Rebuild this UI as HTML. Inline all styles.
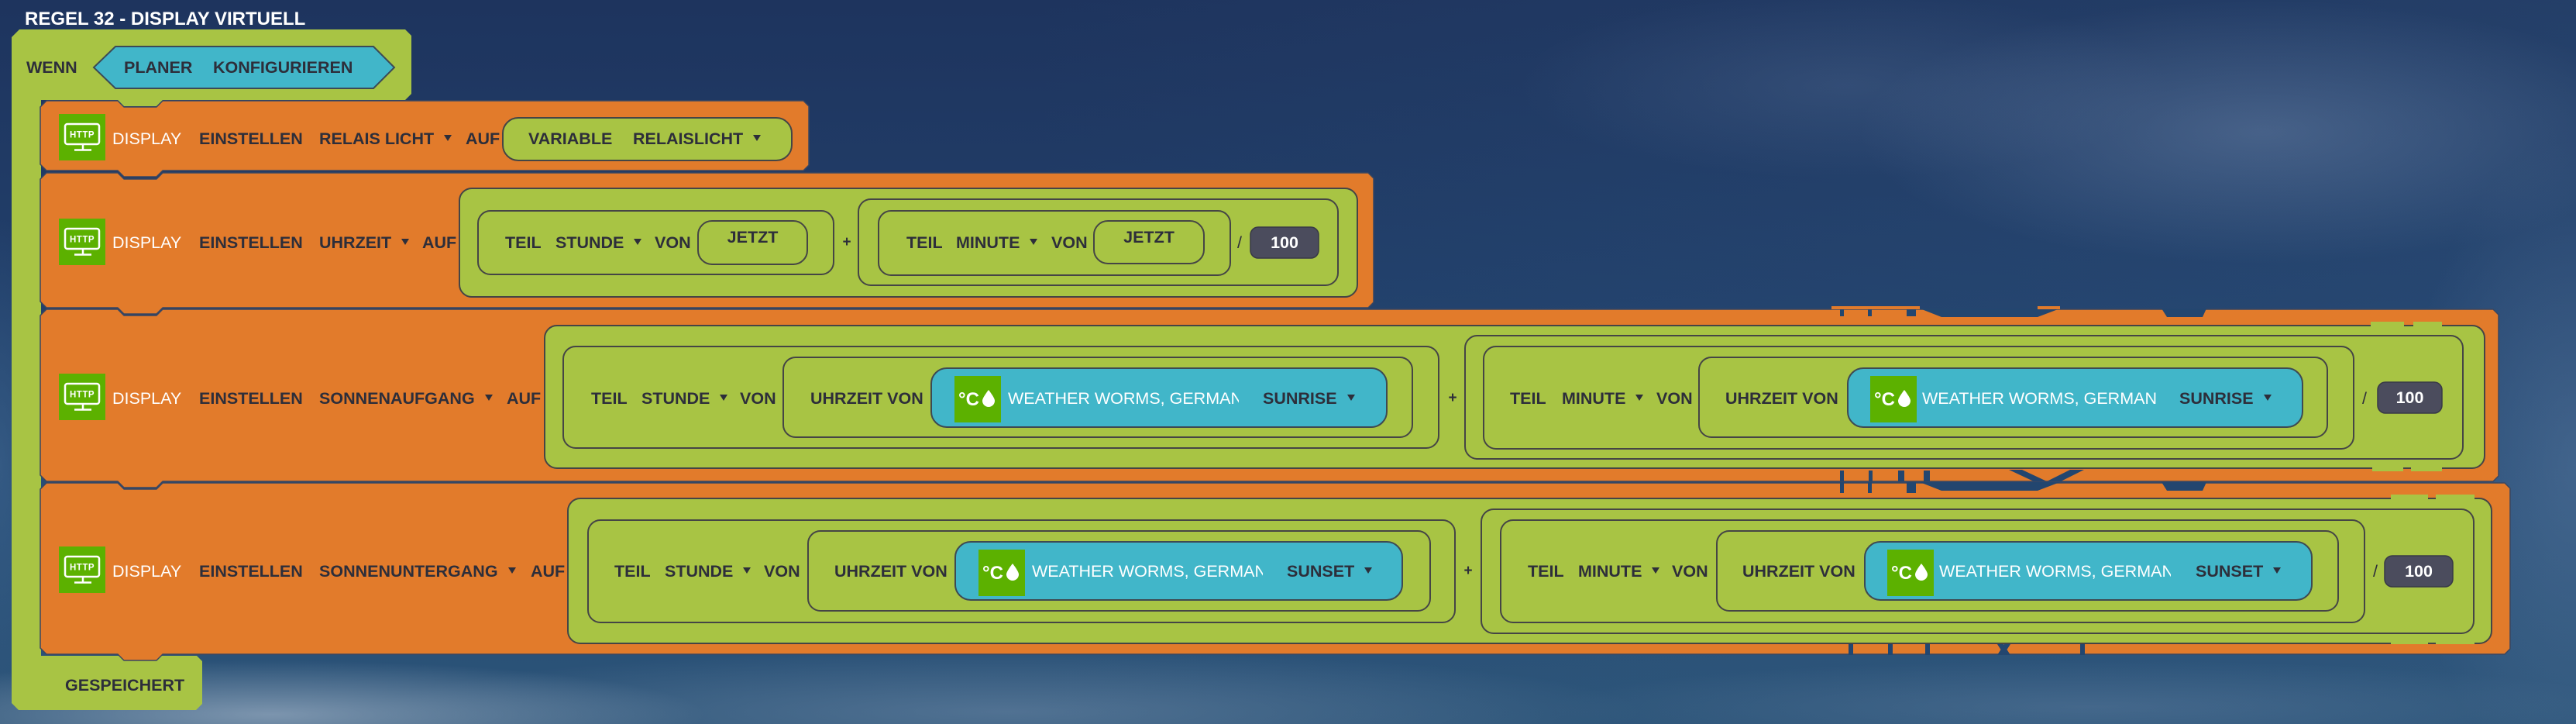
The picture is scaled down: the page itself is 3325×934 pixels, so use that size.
<!DOCTYPE html>
<html><head><meta charset="utf-8">
<style>
html,body{margin:0;padding:0;}
body{width:3325px;height:934px;overflow:hidden;position:relative;
background:
 radial-gradient(ellipse 520px 170px at 2920px 170px, rgba(135,158,192,0.35), rgba(0,0,0,0)),
 radial-gradient(ellipse 420px 120px at 2380px 110px, rgba(110,135,172,0.22), rgba(0,0,0,0)),
 radial-gradient(ellipse 220px 420px at 3325px 600px, rgba(110,140,178,0.35), rgba(0,0,0,0)),
 radial-gradient(ellipse 560px 70px at 350px 922px, rgba(190,202,218,0.55), rgba(0,0,0,0)),
 radial-gradient(ellipse 820px 80px at 1300px 918px, rgba(150,170,196,0.35), rgba(0,0,0,0)),
 radial-gradient(ellipse 700px 60px at 2700px 912px, rgba(120,146,178,0.3), rgba(0,0,0,0)),
 radial-gradient(ellipse 70px 320px at 0px 600px, rgba(70,110,152,0.45), rgba(0,0,0,0)),
 linear-gradient(90deg, rgba(0,0,0,0) 40%, rgba(55,95,135,0.25) 100%),
 linear-gradient(180deg, #1e345e 0%, #213f6a 40%, #264b74 70%, #2c5478 100%);
font-family:"Liberation Sans",Arial,sans-serif;}
.t{position:absolute;white-space:nowrap;font-size:21.5px;line-height:30px;height:30px;color:#2d2e3a;font-weight:bold;}
.w{color:#fff;font-weight:normal;}
.c{text-align:center;}
.dd{display:inline-block;width:0;height:0;border-left:5.5px solid transparent;border-right:5.5px solid transparent;border-top:8px solid #2d2e3a;margin-left:13px;vertical-align:middle;position:relative;top:-2px;}
.clip{overflow:hidden;}
</style></head>
<body>
<svg width="3325" height="934" viewBox="0 0 3325 934" style="position:absolute;left:0;top:0">
<defs>
<g id="http">
<rect x="0" y="0" width="60" height="60" fill="#5cb100"/>
<rect x="8" y="13" width="44" height="26" rx="3" fill="none" stroke="#fff" stroke-width="2.5"/>
<line x1="31" y1="39" x2="31" y2="46" stroke="#fff" stroke-width="2.5"/>
<line x1="20" y1="46.5" x2="42" y2="46.5" stroke="#fff" stroke-width="2.5"/>
<text x="30" y="30.5" font-family="Liberation Sans, sans-serif" font-size="11.5" font-weight="bold" fill="#fff" text-anchor="middle" letter-spacing="0.5">HTTP</text>
</g>
<g id="wx">
<rect x="0" y="0" width="60" height="60" fill="#5cb100"/>
<text x="5" y="38" font-family="Liberation Sans, sans-serif" font-size="24" font-weight="bold" fill="#fff">°C</text>
<path d="M44,18 C44,18 52,28 52,32 A8,8 0 0 1 36,32 C36,28 44,18 44,18 Z" fill="#fff"/>
</g>
</defs>

<!-- green C block -->
<path d="M15,48 L25,38 L523,38 L531,46 L531,121 L523,129 L210,129 L202,137 L160,137 L152,129 L53,129 L53,846 L254,846 L261,853 L261,908 L253,916 L24,916 L15,907 Z" fill="#a8c444"/>
<!-- hexagon -->
<polygon points="121,87 149,60 482,60 509,87 482,114 149,114" fill="#41b6c9" stroke="#3b4a56" stroke-width="2"/>

<!-- orange blocks -->
<g fill="#e27b2b" stroke="#3a4660" stroke-width="1.5" stroke-linejoin="round">
<path d="M52,138 L60,130 L152,130 L160,138 L202,138 L210,130 L1037,130 L1044,137 L1044,213 L1037,220 L210,220 L202,228 L160,228 L152,220 L60,220 L52,212 Z"/>
<path d="M52,231 L60,223 L152,223 L160,231 L202,231 L210,223 L1766,223 L1773,230 L1773,390 L1766,397 L210,397 L202,405 L160,405 L152,397 L60,397 L52,389 Z"/>
<path d="M52,407 L60,399 L152,399 L160,407 L202,407 L210,399 L3218,399 L3225,406 L3225,614 L3218,621 L210,621 L202,629 L160,629 L152,621 L60,621 L52,613 Z"/>
<path d="M52,631 L60,623 L152,623 L160,631 L202,631 L210,623 L3233,623 L3240,630 L3240,837 L3233,844 L210,844 L202,852 L160,852 L152,844 L60,844 L52,836 Z"/>
</g>

<!-- glitch artifacts -->
<g fill="#23466f">
<polygon points="2478,398 2659,398 2630,409 2506,409"/>
<polygon points="2790,398 2848,398 2843,409 2797,409"/>
<rect x="2375" y="398" width="5" height="10"/>
<rect x="2411" y="398" width="5" height="10"/>
<rect x="2461" y="398" width="12" height="10"/>
<rect x="2375" y="607" width="5" height="14"/>
<rect x="2412" y="607" width="5" height="14"/>
<rect x="2450" y="607" width="8" height="14"/>
<rect x="2483" y="607" width="8" height="14"/>
<polygon points="2593,606 2610,606 2642,621 2625,621"/>
<polygon points="2672,606 2690,606 2660,621 2642,621"/>
<polygon points="2478,622 2659,622 2630,633 2506,633"/>
<polygon points="2790,622 2848,622 2843,633 2797,633"/>
<rect x="2375" y="622" width="5" height="14"/>
<rect x="2411" y="622" width="5" height="14"/>
<rect x="2461" y="622" width="12" height="14"/>
<rect x="2386" y="831" width="6" height="14"/>
<rect x="2437" y="831" width="6" height="14"/>
<rect x="2485" y="831" width="6" height="14"/>
<polygon points="2578,831 2586,831 2595,845 2587,845"/>
<polygon points="2595,831 2587,831 2578,845 2586,845"/>
<rect x="2685" y="831" width="6" height="14"/>
</g>
<g fill="#e27b2b">
<rect x="2364" y="395" width="114" height="4"/>
<rect x="2630" y="395" width="29" height="4"/>
</g>

<!-- block 1 value -->
<g fill="#a8c444" stroke="#454545" stroke-width="2">
<rect x="649" y="152" width="373" height="55" rx="20"/>
<!-- block 2 -->
<rect x="593" y="243" width="1159" height="140" rx="16"/>
<rect x="617" y="272" width="459" height="82" rx="16"/>
<rect x="901" y="285" width="141" height="56" rx="18"/>
<rect x="1108" y="257" width="619" height="111" rx="16"/>
<rect x="1134" y="272" width="454" height="83" rx="16"/>
<rect x="1412" y="285" width="142" height="55" rx="18"/>
<!-- block 3 -->
<rect x="703" y="420" width="2504" height="184" rx="16"/>
<rect x="727" y="447" width="1130" height="131" rx="16"/>
<rect x="1011" y="461" width="812" height="103" rx="16"/>
<rect x="1891" y="433" width="1288" height="159" rx="16"/>
<rect x="1915" y="447" width="1123" height="132" rx="16"/>
<rect x="2193" y="461" width="811" height="103" rx="16"/>
<!-- block 4 -->
<rect x="733" y="643" width="2483" height="187" rx="16"/>
<rect x="759" y="671" width="1119" height="132" rx="16"/>
<rect x="1043" y="685" width="803" height="103" rx="16"/>
<rect x="1912" y="657" width="1281" height="160" rx="16"/>
<rect x="1937" y="671" width="1115" height="132" rx="16"/>
<rect x="2216" y="685" width="802" height="103" rx="16"/>
</g>
<g fill="#41b6c9" stroke="#3e4a52" stroke-width="2">
<rect x="1202" y="475" width="588" height="76" rx="20"/>
<rect x="2385" y="475" width="587" height="76" rx="20"/>
<rect x="1233" y="699" width="577" height="75" rx="20"/>
<rect x="2407" y="699" width="577" height="75" rx="20"/>
</g>
<g fill="#4b4c5d" stroke="#383946" stroke-width="1.5">
<rect x="1614" y="293" width="88" height="40" rx="10"/>
<rect x="3069" y="493" width="83" height="40" rx="10"/>
<rect x="3078" y="717" width="88" height="40" rx="10"/>
</g>

<!-- green artifacts at right -->
<g fill="#a8c444">
<rect x="3060" y="415" width="43" height="6"/>
<rect x="3115" y="415" width="37" height="6"/>
<rect x="3062" y="600" width="40" height="8"/>
<rect x="3112" y="600" width="40" height="8"/>
<rect x="3086" y="638" width="48" height="7"/>
<rect x="3144" y="638" width="50" height="7"/>
<rect x="3086" y="822" width="48" height="9"/>
<rect x="3144" y="822" width="50" height="9"/>
</g>

<!-- icons -->
<use href="#http" x="76" y="147"/>
<use href="#http" x="76" y="282"/>
<use href="#http" x="76" y="482"/>
<use href="#http" x="76" y="705"/>
<use href="#wx" x="1232" y="485"/>
<use href="#wx" x="2414" y="485"/>
<use href="#wx" x="1263" y="709"/>
<use href="#wx" x="2436" y="709"/>
</svg>

<!-- title -->
<div class="t" style="left:32px;top:10px;font-size:24px;color:#fff;">REGEL 32 - DISPLAY VIRTUELL</div>

<!-- WENN -->
<div class="t" style="left:34px;top:72px;">WENN</div>
<div class="t" style="left:160px;top:72px;">PLANER</div>
<div class="t" style="left:275px;top:72px;">KONFIGURIEREN</div>

<!-- block 1 -->
<div class="t w" style="left:145px;top:164px;">DISPLAY</div>
<div class="t" style="left:257px;top:164px;">EINSTELLEN</div>
<div class="t" style="left:412px;top:164px;">RELAIS LICHT<span class="dd"></span></div>
<div class="t" style="left:601px;top:164px;">AUF</div>
<div class="t" style="left:682px;top:164px;">VARIABLE</div>
<div class="t" style="left:817px;top:164px;">RELAISLICHT<span class="dd"></span></div>

<!-- block 2 -->
<div class="t w" style="left:145px;top:298px;">DISPLAY</div>
<div class="t" style="left:257px;top:298px;">EINSTELLEN</div>
<div class="t" style="left:412px;top:298px;">UHRZEIT<span class="dd"></span></div>
<div class="t" style="left:545px;top:298px;">AUF</div>
<div class="t" style="left:652px;top:298px;">TEIL</div>
<div class="t" style="left:717px;top:298px;">STUNDE<span class="dd"></span></div>
<div class="t" style="left:845px;top:298px;">VON</div>
<div class="t c" style="left:901px;width:141px;top:291px;">JETZT</div>
<div class="t c" style="left:1082px;width:22px;top:298px;font-size:19px;">+</div>
<div class="t" style="left:1170px;top:298px;">TEIL</div>
<div class="t" style="left:1234px;top:298px;">MINUTE<span class="dd"></span></div>
<div class="t" style="left:1357px;top:298px;">VON</div>
<div class="t c" style="left:1412px;width:142px;top:291px;">JETZT</div>
<div class="t c" style="left:1590px;width:20px;top:298px;font-weight:normal;">/</div>
<div class="t c" style="left:1614px;width:88px;top:298px;color:#fff;">100</div>

<!-- block 3 -->
<div class="t w" style="left:145px;top:499px;">DISPLAY</div>
<div class="t" style="left:257px;top:499px;">EINSTELLEN</div>
<div class="t" style="left:412px;top:499px;">SONNENAUFGANG<span class="dd"></span></div>
<div class="t" style="left:654px;top:499px;">AUF</div>
<div class="t" style="left:763px;top:499px;">TEIL</div>
<div class="t" style="left:828px;top:499px;">STUNDE<span class="dd"></span></div>
<div class="t" style="left:955px;top:499px;">VON</div>
<div class="t" style="left:1046px;top:499px;">UHRZEIT VON</div>
<div class="t w clip" style="left:1301px;width:298px;top:499px;">WEATHER WORMS, GERMANY</div>
<div class="t" style="left:1630px;top:499px;">SUNRISE<span class="dd"></span></div>
<div class="t c" style="left:1864px;width:22px;top:499px;font-size:19px;">+</div>
<div class="t" style="left:1949px;top:499px;">TEIL</div>
<div class="t" style="left:2016px;top:499px;">MINUTE<span class="dd"></span></div>
<div class="t" style="left:2138px;top:499px;">VON</div>
<div class="t" style="left:2227px;top:499px;">UHRZEIT VON</div>
<div class="t w clip" style="left:2481px;width:302px;top:499px;">WEATHER WORMS, GERMANY</div>
<div class="t" style="left:2813px;top:499px;">SUNRISE<span class="dd"></span></div>
<div class="t c" style="left:3042px;width:20px;top:499px;font-weight:normal;">/</div>
<div class="t c" style="left:3069px;width:83px;top:498px;color:#fff;">100</div>

<!-- block 4 -->
<div class="t w" style="left:145px;top:722px;">DISPLAY</div>
<div class="t" style="left:257px;top:722px;">EINSTELLEN</div>
<div class="t" style="left:412px;top:722px;">SONNENUNTERGANG<span class="dd"></span></div>
<div class="t" style="left:685px;top:722px;">AUF</div>
<div class="t" style="left:793px;top:722px;">TEIL</div>
<div class="t" style="left:858px;top:722px;">STUNDE<span class="dd"></span></div>
<div class="t" style="left:986px;top:722px;">VON</div>
<div class="t" style="left:1077px;top:722px;">UHRZEIT VON</div>
<div class="t w clip" style="left:1332px;width:298px;top:722px;">WEATHER WORMS, GERMANY</div>
<div class="t" style="left:1661px;top:722px;">SUNSET<span class="dd"></span></div>
<div class="t c" style="left:1884px;width:22px;top:722px;font-size:19px;">+</div>
<div class="t" style="left:1972px;top:722px;">TEIL</div>
<div class="t" style="left:2037px;top:722px;">MINUTE<span class="dd"></span></div>
<div class="t" style="left:2158px;top:722px;">VON</div>
<div class="t" style="left:2249px;top:722px;">UHRZEIT VON</div>
<div class="t w clip" style="left:2503px;width:299px;top:722px;">WEATHER WORMS, GERMANY</div>
<div class="t" style="left:2834px;top:722px;">SUNSET<span class="dd"></span></div>
<div class="t c" style="left:3056px;width:20px;top:722px;font-weight:normal;">/</div>
<div class="t c" style="left:3078px;width:88px;top:722px;color:#fff;">100</div>

<!-- GESPEICHERT -->
<div class="t" style="left:84px;top:869px;">GESPEICHERT</div>
</body></html>
